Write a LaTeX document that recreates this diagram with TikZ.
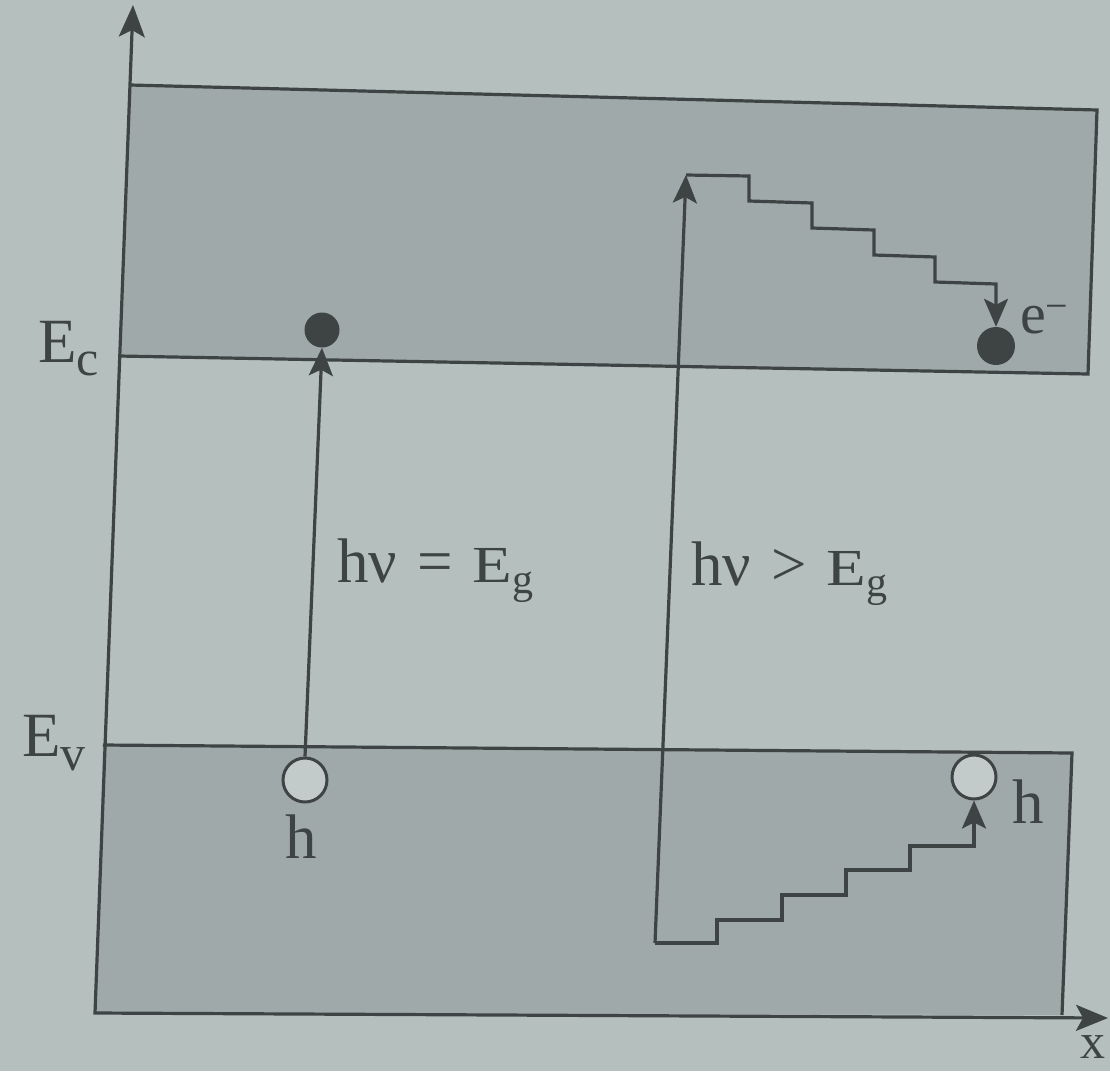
\documentclass[tikz,border=0pt]{standalone}
\usepackage{fontspec}
\setmainfont{Liberation Serif}
\usetikzlibrary{arrows.meta}
\definecolor{paper}{RGB}{181,191,190}
\definecolor{band}{RGB}{160,169,169}
\definecolor{ink}{RGB}{62,68,68}
\definecolor{holefill}{RGB}{194,203,202}
\begin{document}
\begin{tikzpicture}[x=1pt,y=-1pt,
  line/.style={draw=ink,line width=3.2pt,line join=miter},
  arr/.style={line,-{Stealth[length=28pt,width=24pt,inset=6pt]}},
  electron/.style={circle,fill=ink,inner sep=0pt,minimum size=#1},
  electron/.default=36pt,
  hole/.style={circle,draw=ink,line width=3pt,fill=holefill,inner sep=0pt,minimum size=44pt},
  lbl/.style={text=ink,inner sep=0pt,anchor=base west,font=\fontsize{63}{70}\selectfont},
]
\useasboundingbox (0,0) rectangle (1110,1071);
\fill[paper] (0,0) rectangle (1110,1071);

% band corners
\coordinate (CTL) at (130,85);
\coordinate (CTR) at (1097,110);
\coordinate (CBR) at (1088,374);
\coordinate (CBL) at (119,356);
\coordinate (VTL) at (103,745);
\coordinate (VTR) at (1072,753);
\coordinate (VBR) at (1062,1015);
\coordinate (O) at (95,1013);
\coordinate (Ytip) at (133,5);
\coordinate (Xtip) at (1108,1018);

% bands
\fill[band] (CTL) -- (CTR) -- (CBR) -- (CBL) -- cycle;
\fill[band] (VTL) -- (VTR) -- (VBR) -- (O) -- cycle;
\draw[line] (CTL) -- (CTR) -- (CBR) -- (CBL);
\draw[line] (VTL) -- (VTR) -- (VBR);

% axes
\draw[line,{Stealth[length=32pt,width=26pt,inset=7pt]}-{Stealth[length=32pt,width=26pt,inset=7pt]}] (Ytip) -- (O) -- (Xtip);

% carriers
\node[electron=35pt] (E1) at (322,330) {};
\node[hole] (H1) at (305,780) {};
\node[electron=38pt] (E2) at (996,346) {};
\node[hole] (H2) at (974,777) {};

% transition hv = Eg
\draw[arr] (H1.north) -- (E1.south);

% transition hv > Eg
\coordinate (B0) at (655,943);
\coordinate (T0) at (686,175);
\draw[arr] (B0) -- (T0);

\coordinate (u1) at (749,176);
\coordinate (u2) at (749,201);
\coordinate (u3) at (812,203);
\coordinate (u4) at (812,228);
\coordinate (u5) at (874,230);
\coordinate (u6) at (874,255);
\coordinate (u7) at (935,257);
\coordinate (u8) at (935,282);
\coordinate (u9) at (996,284);
\draw[arr] (T0) -- (u1) -- (u2) -- (u3) -- (u4) -- (u5) -- (u6) -- (u7) -- (u8) -- (u9) -- (E2.north);

\coordinate (l1) at (717,943);
\coordinate (l2) at (717,920);
\coordinate (l3) at (782,920);
\coordinate (l4) at (782,895);
\coordinate (l5) at (846,895);
\coordinate (l6) at (846,870);
\coordinate (l7) at (910,870);
\coordinate (l8) at (910,846);
\coordinate (l9) at (974,846);
\draw[arr] (B0) -- (l1) -- (l2) -- (l3) -- (l4) -- (l5) -- (l6) -- (l7) -- (l8) -- (l9) -- (H2.south);

% labels
\node[lbl] (Ec) at (38,362) {E\raisebox{-13pt}{\fontsize{50}{50}\selectfont c}};
\node[lbl] (Ev) at (22,756) {E\raisebox{-14pt}{\fontsize{50}{50}\selectfont v}};
\node[lbl] (eq1) at (337,582) {hν\hspace{20pt}=\hspace{20pt}\scalebox{1.25}[1]{\fontsize{52}{54}\selectfont E}\raisebox{-11pt}{\fontsize{42}{44}\selectfont g}};
\node[lbl] (eq2) at (691,585) {hν\hspace{20pt}>\hspace{20pt}\scalebox{1.25}[1]{\fontsize{52}{54}\selectfont E}\raisebox{-11pt}{\fontsize{42}{44}\selectfont g}};
\node[lbl] (h1) at (285,858) {h};
\node[lbl] (h2) at (1012,823) {h};
\node[lbl] (em) at (1020,333) {{\fontsize{58}{60}\selectfont e}\raisebox{14pt}{\fontsize{40}{40}\selectfont −}};
\node[lbl,font=\fontsize{50}{52}\selectfont] (xl) at (1080,1058) {x};
\end{tikzpicture}
\end{document}
